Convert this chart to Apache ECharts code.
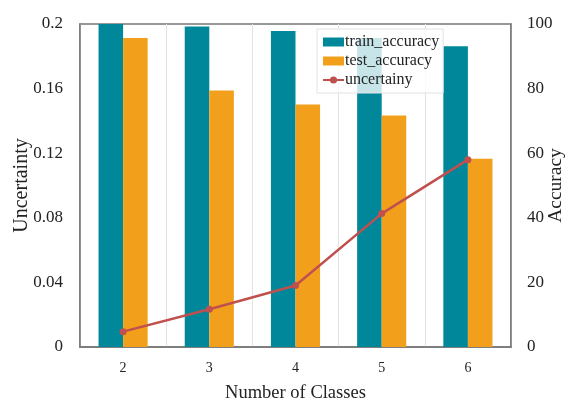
<!DOCTYPE html>
<html><head><meta charset="utf-8">
<script src="https://cdn.jsdelivr.net/npm/echarts@6/dist/echarts.min.js"></script>
<style>html,body{margin:0;padding:0;background:#fff;}#c{width:571px;height:404px;}</style>
</head><body><div id="c"></div>
<script>
const categories = ['2', '3', '4', '5', '6'];
const trainAccuracy = [100, 99.2, 97.8, 95.7, 93.1];
const testAccuracy = [95.7, 79.4, 75.1, 71.7, 58.3];
const uncertainty = [0.0095, 0.0234, 0.0381, 0.0826, 0.1160];
const leftTicks = [0, 0.04, 0.08, 0.12, 0.16, 0.2];
const rightTicks = [0, 20, 40, 60, 80, 100];

const FONT = 'Liberation Serif';
const chart = echarts.init(document.getElementById('c'));
chart.setOption({
  animation: false,
  textStyle: { fontFamily: FONT },
  grid: { left: 80, right: 60, top: 24, bottom: 57, show: true, borderColor: '#777', borderWidth: 1.5,
    containLabel: false, outerBoundsMode: 'none' },
  legend: {
    orient: 'vertical', left: 317, top: 29,
    itemWidth: 21, itemHeight: 9, itemGap: 3,
    padding: [5, 4, 5, 5],
    backgroundColor: 'rgba(255,255,255,0.78)', borderColor: '#e2e2e2', borderWidth: 1,
    textStyle: { fontFamily: FONT, fontSize: 16, color: '#222', padding: [0, 0, 0, -4] },
    data: [
      { name: 'train_accuracy', icon: 'rect' },
      { name: 'test_accuracy', icon: 'rect' },
      { name: 'uncertainy' }
    ]
  },
  xAxis: {
    type: 'category', data: categories,
    name: 'Number of Classes', nameLocation: 'middle', nameGap: 37, nameMoveOverlap: false,
    nameTextStyle: { fontFamily: FONT, fontSize: 18.5, color: '#222' },
    axisLine: { lineStyle: { color: '#777', width: 1.5 } },
    axisTick: { show: false },
    axisLabel: { fontFamily: FONT, fontSize: 14, color: '#222', margin: 14 },
    splitLine: { show: true, lineStyle: { color: '#e3e3e3', width: 1 } }
  },
  yAxis: [
    {
      type: 'value', min: 0, max: 0.2, interval: 0.04,
      name: 'Uncertainty', nameLocation: 'middle', nameGap: 48, nameMoveOverlap: false, nameRotate: 90,
      nameTextStyle: { fontFamily: FONT, fontSize: 20, color: '#222' },
      axisLine: { show: true, lineStyle: { color: '#777', width: 1.5 } },
      axisTick: { show: false },
      splitLine: { show: false },
      axisLabel: { fontFamily: FONT, fontSize: 17, color: '#222', margin: 17,
        formatter: v => { const t = leftTicks.find(x => Math.abs(x - v) < 1e-9); return t === undefined ? '' : String(t); } }
    },
    {
      type: 'value', min: 0, max: 100, interval: 20,
      name: 'Accuracy', nameLocation: 'middle', nameGap: 35, nameMoveOverlap: false, nameRotate: 90,
      nameTextStyle: { fontFamily: FONT, fontSize: 19.5, color: '#222' },
      axisLine: { show: true, lineStyle: { color: '#777', width: 1.5 } },
      axisTick: { show: false },
      splitLine: { show: false },
      axisLabel: { fontFamily: FONT, fontSize: 17, color: '#222', margin: 16,
        formatter: v => { const t = rightTicks.find(x => Math.abs(x - v) < 1e-9); return t === undefined ? '' : String(t); } }
    }
  ],
  series: [
    { name: 'train_accuracy', type: 'bar', yAxisIndex: 1, data: trainAccuracy,
      itemStyle: { color: '#00889a' }, barGap: '0%', barCategoryGap: '43%' },
    { name: 'test_accuracy', type: 'bar', yAxisIndex: 1, data: testAccuracy,
      itemStyle: { color: '#f2a01b' } },
    { name: 'uncertainy', type: 'line', yAxisIndex: 0, data: uncertainty,
      symbol: 'circle', symbolSize: 7, z: 5,
      lineStyle: { color: '#c0504d', width: 2.5 }, itemStyle: { color: '#c0504d' } }
  ]
});
</script></body></html>
